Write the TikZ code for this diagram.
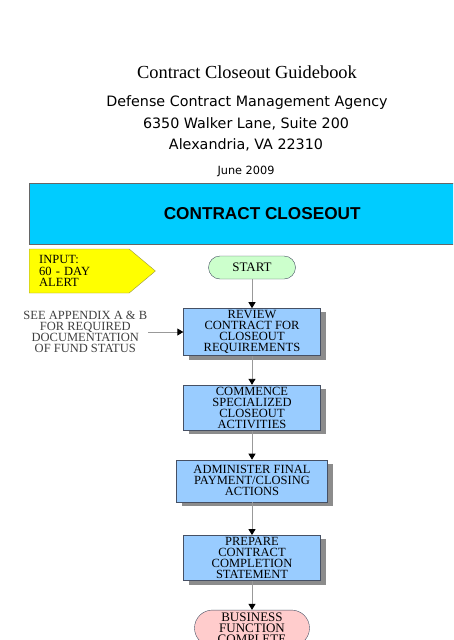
\documentclass[tikz,border=0pt]{standalone}
\usepackage{fontspec}
\setmainfont{Liberation Serif}
\setsansfont{Liberation Sans}
\newfontfamily\addrfont{DejaVu Sans}
\usetikzlibrary{arrows.meta, positioning, shadows, shapes.symbols}
\definecolor{bannercolor}{RGB}{0,204,255}
\definecolor{stepcolor}{RGB}{153,204,255}
\definecolor{startcolor}{RGB}{204,255,204}
\definecolor{endcolor}{RGB}{255,204,204}
\definecolor{inputcolor}{RGB}{255,255,0}
\definecolor{edgecolor}{RGB}{70,80,100}
\tikzset{
  heading/.style={font=#1, inner sep=0pt},
  banner/.style={draw=black!60, fill=bannercolor, minimum width=466pt,
                 minimum height=61pt, font=\sffamily\bfseries\fontsize{17.2}{20}\selectfont},
  flowbox/.style={draw=edgecolor, fill=stepcolor, minimum width=137pt,
                  minimum height=45pt, inner sep=2pt, align=center,
                  font=\fontsize{12.5}{11}\selectfont,
                  drop shadow={shadow xshift=5pt, shadow yshift=-4pt,
                               fill=black!45, opacity=1}},
  terminal/.style={draw=edgecolor, fill=#1, align=center, inner xsep=2pt,
                   inner ysep=1pt, font=\fontsize{13}{11}\selectfont},
  terminal/.default=startcolor,
  inputflag/.style={signal, signal to=east, signal pointer angle=80,
                    draw=black!45!yellow, fill=inputcolor, align=left,
                    minimum height=44pt, text width=80pt, inner xsep=10pt,
                    font=\fontsize{12.5}{11.5}\selectfont},
  note/.style={align=center, text=black!75, inner sep=1pt,
               font=\fontsize{12.5}{11}\selectfont},
  arrow/.style={-{Triangle[length=6pt, width=7pt, color=black]},
                draw=black!40, line width=0.9pt},
}

\begin{document}
\begin{tikzpicture}[x=1pt, y=-1pt, node distance=29pt]

  \useasboundingbox[fill=white] (0,0) rectangle (453,640);
  \clip (0,0) rectangle (453,640);

  % title block
  \node[heading=\fontsize{18.4}{20}\selectfont] (title) at (247,72)
    {Contract Closeout Guidebook};
  \node[heading=\addrfont\fontsize{14.3}{16}\selectfont] (agency) at (247,102.5)
    {Defense Contract Management Agency};
  \node[heading=\addrfont\fontsize{14.3}{16}\selectfont] (street) at (246,123.5)
    {6350 Walker Lane, Suite 200};
  \node[heading=\addrfont\fontsize{14.3}{16}\selectfont] (city) at (246,144.5)
    {Alexandria, VA 22310};
  \node[heading=\addrfont\fontsize{11.3}{13}\selectfont] (date) at (246,171)
    {June 2009};

  \node[banner, anchor=north west] (banner) at (29,183) {CONTRACT CLOSEOUT};

  % flow
  \node[inputflag, anchor=west] (input) at (29,271)
    {INPUT:\\60 - DAY\\ALERT};

  \node[terminal, minimum width=87pt, minimum height=23pt,
        rounded corners=11.5pt] (start) at (252,267.5) {START};
  \node[flowbox, below=29pt of start]
    (review) {REVIEW\\CONTRACT FOR\\CLOSEOUT\\REQUIREMENTS};
  \node[flowbox, below=of review]
    (commence) {COMMENCE\\SPECIALIZED\\CLOSEOUT\\ACTIVITIES};
  \node[flowbox, minimum width=151pt, minimum height=42pt, below=of commence]
    (administer) {ADMINISTER FINAL\\PAYMENT/CLOSING\\ACTIONS};
  \node[flowbox, below=33pt of administer]
    (prepare) {PREPARE\\CONTRACT\\COMPLETION\\STATEMENT};
  \node[terminal=endcolor, minimum width=115pt, minimum height=36pt,
        rounded corners=18pt, below=of prepare]
    (business) {BUSINESS\\FUNCTION\\COMPLETE};

  \node[note, left=35pt of review]
    (appendix) {SEE APPENDIX A \& B\\FOR REQUIRED\\DOCUMENTATION\\OF FUND STATUS};

  \draw[arrow] (start) -- (review);
  \draw[arrow] (review) -- (commence);
  \draw[arrow] (commence) -- (administer);
  \draw[arrow] (administer) -- (prepare);
  \draw[arrow] (prepare) -- (business);
  \draw[arrow] (appendix) -- (review);

\end{tikzpicture}
\end{document}
